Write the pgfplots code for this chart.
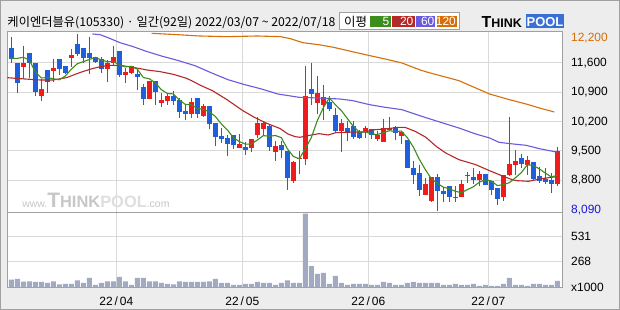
\documentclass[border=0pt]{standalone}
\usepackage{pgfplots}
\pgfplotsset{compat=1.18}
\usepackage{fontspec}
\setmainfont{Noto Sans CJK KR}
\newfontfamily\lib{Liberation Sans}
\definecolor{bg}{HTML}{EDEDED}
\definecolor{framec}{HTML}{A0A0A0}
\definecolor{gridc}{HTML}{D9D9D9}
\definecolor{upc}{HTML}{EE1C1C}
\definecolor{dnc}{HTML}{1F5FDC}
\definecolor{ma5}{HTML}{3C8C1E}
\definecolor{ma20}{HTML}{B42828}
\definecolor{ma60}{HTML}{6A5ADC}
\definecolor{ma120}{HTML}{D66E0A}
\definecolor{vol}{HTML}{A2AAC2}
\definecolor{lowc}{HTML}{1818D8}
\definecolor{logob}{HTML}{3A6FD6}
\newcommand\U[5]{%
  \addplot[upc, line width=1bp, forget plot] coordinates {(#1,#3) (#1,#4)};
  \addplot[upc, line width=4.8bp, forget plot] coordinates {(#1,#2) (#1,#5)};}
\newcommand\D[5]{%
  \addplot[dnc, line width=1bp, forget plot] coordinates {(#1,#3) (#1,#4)};
  \addplot[dnc, line width=4.8bp, forget plot] coordinates {(#1,#2) (#1,#5)};}
\begin{document}
\begin{tikzpicture}
\fill[bg] (0bp,0bp) rectangle (620bp,310bp);
\draw[framec, line width=1bp] (0.5bp,0.5bp) rectangle (619.5bp,309.5bp);
% title
\node[anchor=west, inner sep=0pt, font=\fontsize{12.3}{13}\selectfont] at (7.3bp,287.4bp)
  {케이엔더블유(105330) · 일간(92일) 2022/03/07 \textasciitilde{} 2022/07/18};
% legend box
\draw[fill=white, draw=framec, line width=1bp] (339.3bp,297.3bp) rectangle (459.3bp,280bp);
\node[anchor=west, inner sep=0pt, font=\fontsize{12.5}{13}\selectfont] at (344bp,288.5bp) {이평};
\fill[ma5] (370bp,294.3bp) rectangle (390.7bp,282.7bp);
\fill[ma20] (392.3bp,294.3bp) rectangle (414.5bp,282.7bp);
\fill[ma60] (416bp,294.3bp) rectangle (435.3bp,282.7bp);
\fill[ma120] (436.7bp,294.3bp) rectangle (456.7bp,282.7bp);
\begin{scope}[every node/.style={anchor=base east, inner sep=0pt, text=white, font=\lib\fontsize{12}{12}\selectfont}]
\node at (389.5bp,284bp) {5};
\node at (413.5bp,284bp) {20};
\node at (434.5bp,284bp) {60};
\node at (456bp,284bp) {120};
\end{scope}
% logo
\fill[logob] (526bp,295.7bp) rectangle (564bp,281.7bp);
\node[anchor=base west, inner sep=0pt, font=\lib\bfseries\fontsize{16}{16}\selectfont] at (481.5bp,282.2bp)
  {T\fontsize{12.5}{12.5}\selectfont HINK};
\node[anchor=base, inner sep=0pt, text=white, font=\lib\bfseries\fontsize{13}{13}\selectfont] at (545bp,283bp) {POOL};
% price panel
\begin{axis}[
  at={(7.3bp,97.7bp)}, anchor=south west, scale only axis,
  width=554.7bp, height=181bp,
  xmin=-0.667, xmax=91.78, ymin=8036, ymax=12356,
  scaled y ticks=false,
  axis background/.style={fill=white},
  axis line style={framec, line width=1bp},
  xtick={17.5,38.5,59.5,79.5}, xticklabels={},
  ytick={8800,9500,10200,10900,11600},
  yticklabels={{8,800},{9,500},{10,200},{10,900},{11,600}},
  extra y ticks={8090,12200},
  extra y tick labels={{\textcolor{lowc}{8,090}},{\textcolor{ma120}{12,200}}},
  extra y tick style={grid=none},
  yticklabel pos=right,
  grid=major, grid style={gridc, line width=1bp},
  major tick length=0pt,
  yticklabel style={font=\lib\fontsize{12}{12}\selectfont, anchor=west, inner sep=0pt, xshift=9bp},
]
\node[anchor=west, inner sep=0pt, text=black!22] at (axis cs:1.8,8330)
  {\lib\fontsize{10.5}{10}\selectfont www.\bfseries\fontsize{21}{21}\selectfont T\fontsize{16.5}{16}\selectfont HINK\textcolor{black!13}{POOL}\mdseries\fontsize{10.5}{10}\selectfont.com};
\D{0}{11966}{12212}{11592}{11687}
\D{1}{11608}{11608}{10876}{11114}
\U{2}{11512}{12013}{11218}{11608}
\D{3}{11846}{11846}{11234}{11592}
\D{4}{11608}{11608}{10804}{10916}
\U{5}{10804}{11218}{10701}{10979}
\D{6}{11433}{11433}{10876}{11154}
\U{7}{11417}{11703}{11154}{11480}
\D{8}{11703}{11703}{11313}{11464}
\D{9}{11536}{11536}{11337}{11369}
\U{10}{11719}{11942}{11496}{11783}
\D{11}{12053}{12292}{11767}{11815}
\D{12}{11966}{11966}{11592}{11719}
\D{13}{11846}{12212}{11337}{11727}
\D{14}{11735}{11735}{11592}{11632}
\D{15}{11687}{11735}{11353}{11464}
\U{16}{11464}{11671}{11154}{11608}
\U{17}{11592}{12013}{11528}{11751}
\D{18}{11886}{11886}{11274}{11321}
\U{19}{11321}{11472}{11114}{11393}
\U{20}{11369}{11528}{11329}{11528}
\D{21}{11345}{11464}{10963}{11274}
\D{22}{11035}{11107}{10597}{10749}
\U{23}{10749}{11170}{10733}{11170}
\D{24}{11162}{11162}{10605}{10908}
\U{25}{10653}{10884}{10550}{10717}
\U{26}{10701}{10884}{10605}{10812}
\D{27}{10812}{10939}{10605}{10701}
\D{28}{10717}{10764}{10287}{10438}
\D{29}{10454}{10605}{10247}{10391}
\U{30}{10391}{10764}{10287}{10669}
\D{31}{10764}{10764}{10287}{10391}
\U{32}{10335}{10621}{10303}{10574}
\D{33}{10574}{10574}{10033}{10152}
\D{34}{10168}{10168}{9627}{9834}
\D{35}{9858}{10048}{9691}{9786}
\D{36}{9810}{9889}{9388}{9675}
\D{37}{9873}{9873}{9555}{9651}
\U{38}{9579}{9905}{9571}{9675}
\D{39}{9603}{9706}{9412}{9531}
\U{40}{9571}{9786}{9476}{9786}
\U{41}{9873}{10303}{9810}{10168}
\U{42}{10025}{10208}{9850}{10168}
\D{43}{10104}{10128}{9492}{9603}
\U{44}{9484}{9730}{9269}{9619}
\D{45}{9643}{9730}{9333}{9531}
\D{46}{9508}{9508}{8577}{8855}
\U{47}{8791}{9253}{8744}{9237}
\U{48}{9317}{9492}{8959}{9333}
\U{49}{9317}{11520}{9157}{10804}
\D{50}{10979}{11600}{10605}{10860}
\U{51}{10645}{11282}{10383}{10884}
\U{52}{10605}{11067}{10247}{10780}
\D{53}{10669}{10804}{10446}{10510}
\D{54}{10351}{10526}{9929}{9985}
\U{55}{9985}{10263}{9476}{10168}
\D{56}{10048}{10224}{9746}{9937}
\D{57}{10096}{10208}{9794}{9834}
\D{58}{9953}{10009}{9786}{9810}
\U{59}{9953}{10088}{9810}{10048}
\D{60}{10025}{10025}{9786}{9889}
\U{61}{9794}{9969}{9730}{9889}
\U{62}{9722}{10263}{9722}{10048}
\U{63}{10001}{10303}{9969}{10048}
\D{64}{10064}{10088}{9770}{9937}
\U{65}{9866}{9953}{9675}{9953}
\D{66}{9762}{9762}{9102}{9102}
\D{67}{9094}{9253}{8720}{8935}
\D{68}{8975}{9173}{8418}{8577}
\U{69}{8458}{8855}{8458}{8712}
\U{70}{8299}{8871}{8283}{8871}
\D{71}{8871}{8951}{8076}{8537}
\D{72}{8545}{8633}{8283}{8481}
\D{73}{8656}{8656}{8275}{8394}
\U{74}{8386}{8656}{8283}{8402}
\U{75}{8394}{8800}{8394}{8712}
\D{76}{8935}{8991}{8728}{8895}
\D{77}{8879}{9094}{8712}{8816}
\U{78}{8816}{9014}{8656}{8951}
\D{79}{8951}{8951}{8680}{8680}
\D{80}{8784}{8784}{8442}{8577}
\D{81}{8609}{8609}{8219}{8346}
\U{82}{8394}{8919}{8314}{8919}
\U{83}{8919}{10311}{8895}{9189}
\U{84}{9173}{9523}{8935}{9261}
\D{85}{9333}{9428}{9094}{9197}
\U{86}{9157}{9372}{8935}{9285}
\D{87}{9237}{9237}{8776}{8831}
\D{88}{8903}{9110}{8728}{8784}
\D{89}{8831}{9094}{8720}{8768}
\D{90}{8816}{8967}{8505}{8720}
\U{91}{8720}{9595}{8656}{9499}
% MA120
\addplot[ma120, line width=1.1bp] coordinates {(23.4,12308) (27.6,12276) (31.4,12244) (35.9,12228) (41,12244) (44.9,12228) (46.5,12180) (48.6,12085) (51.2,12037) (53.7,11974) (56.1,11894) (59.5,11783) (62.3,11695) (65.1,11600) (68,11441) (69.2,11385) (71.9,11282) (74.6,11178) (77.4,11003) (79.7,10860) (83,10725) (85.8,10621) (88,10526) (90.5,10430)};
% MA60
\addplot[ma60, line width=1.1bp] coordinates {(13.5,12292) (14.8,12276) (16.4,12188) (18.1,12085) (20.3,11990) (22.5,11878) (25.2,11759) (27.9,11655) (30.6,11536) (33.4,11361) (36.1,11202) (38.9,11083) (41.7,10979) (44.4,10860) (48,10780) (51.3,10764) (54.7,10741) (56.9,10701) (59.7,10605) (62.3,10542) (65.1,10486) (67.9,10351) (69.1,10295) (71.9,10168) (74.6,10048) (77.4,9905) (79.7,9810) (81.3,9706) (83.6,9667) (85.8,9635) (88,9555) (90.8,9476) (91,9470)};
% MA20
\addplot[ma20, line width=1.1bp] coordinates {(-0.7,11250) (1.4,11226) (4.8,11194) (7,11194) (9.2,11250) (11.4,11369) (13.1,11449) (14.8,11512) (16.4,11544) (18.1,11544) (20.3,11496) (22.6,11433) (24.8,11393) (27,11329) (29.2,11234) (30.6,11138) (31.4,11075) (33.5,10940) (36,10720) (38.5,10470) (40.5,10303) (42.7,10152) (44.8,10035) (46.1,9905) (47.3,9842) (48.1,9826) (49.7,9873) (51.3,9913) (52.8,9881) (54.1,9937) (56.9,9953) (59.2,9953) (60,10001) (62.3,10025) (64.6,10064) (65.6,10064) (67.3,9969) (69.1,9826) (70.8,9611) (72.4,9452) (74.6,9293) (77.4,9173) (79.7,9030) (81.3,8935) (83,8839) (84.1,8792) (86.2,8776) (88.4,8839) (90,8871) (91,8887)};
% MA5
\addplot[ma5, line width=1.1bp] coordinates {(0,11703) (1,11711) (2,11735) (3,11671) (4,11383) (5,11242) (6,11250) (7,11224) (8,11199) (9,11289) (10,11450) (11,11582) (12,11630) (13,11683) (14,11735) (15,11671) (16,11630) (17,11636) (18,11555) (19,11507) (20,11520) (21,11453) (22,11253) (23,11223) (24,11126) (25,10964) (26,10871) (27,10862) (28,10715) (29,10612) (30,10602) (31,10518) (32,10493) (33,10435) (34,10324) (35,10147) (36,10004) (37,9820) (38,9724) (39,9664) (40,9664) (41,9762) (42,9866) (43,9851) (44,9869) (45,9818) (46,9555) (47,9369) (48,9315) (49,9552) (50,9818) (51,10224) (52,10532) (53,10768) (54,10604) (55,10465) (56,10276) (57,10087) (58,9947) (59,9959) (60,9904) (61,9894) (62,9937) (63,9984) (64,9962) (65,9975) (66,9818) (67,9595) (68,9301) (69,9056) (70,8839) (71,8726) (72,8636) (73,8599) (74,8537) (75,8505) (76,8577) (77,8644) (78,8755) (79,8811) (80,8784) (81,8674) (82,8695) (83,8742) (84,8858) (85,8982) (86,9170) (87,9153) (88,9072) (89,8973) (90,8878) (91,8920)};
\end{axis}
% volume panel
\begin{axis}[
  at={(7.3bp,22.7bp)}, anchor=south west, scale only axis,
  width=554.7bp, height=75bp,
  xmin=-0.667, xmax=91.78, ymin=0, ymax=789,
  scaled y ticks=false,
  axis background/.style={fill=white},
  axis line style={framec, line width=1bp},
  xtick={17.5,38.5,59.5,79.5},
  xticklabels={22\,/\,04,22\,/\,05,22\,/\,06,22\,/\,07},
  xticklabel style={font=\lib\fontsize{12}{12}\selectfont, inner sep=0pt, yshift=-9bp},
  ytick={268,531}, yticklabels={268,531},
  extra y ticks={0}, extra y tick labels={x1000},
  extra y tick style={grid=none},
  yticklabel pos=right,
  grid=major, grid style={gridc, line width=1bp},
  major tick length=0pt,
  yticklabel style={font=\lib\fontsize{12}{12}\selectfont, anchor=west, inner sep=0pt, xshift=9bp},
]
\addplot[ybar, bar width=4.9bp, bar shift=0pt, fill=vol, draw=none] coordinates {
(0,81) (1,88) (2,60) (3,63) (4,56) (5,56) (6,46) (7,63) (8,32) (9,35)
(10,35) (11,74) (12,46) (13,98) (14,25) (15,46) (16,63) (17,63) (18,109) (19,63)
(20,25) (21,98) (22,98) (23,63) (24,63) (25,46) (26,35) (27,32) (28,63) (29,56)
(30,56) (31,56) (32,56) (33,63) (34,88) (35,46) (36,46) (37,25) (38,25) (39,35)
(40,35) (41,56) (42,46) (43,46) (44,25) (45,46) (46,74) (47,46) (48,46) (49,776)
(50,224) (51,140) (52,151) (53,35) (54,119) (55,46) (56,25) (57,35) (58,35) (59,35)
(60,25) (61,25) (62,56) (63,46) (64,25) (65,25) (66,46) (67,56) (68,46) (69,46)
(70,46) (71,46) (72,25) (73,25) (74,35) (75,25) (76,25) (77,35) (78,14) (79,25)
(80,14) (81,14) (82,35) (83,98) (84,25) (85,25) (86,14) (87,35) (88,35) (89,25)
(90,25) (91,67)};
\end{axis}
\end{tikzpicture}
\end{document}
